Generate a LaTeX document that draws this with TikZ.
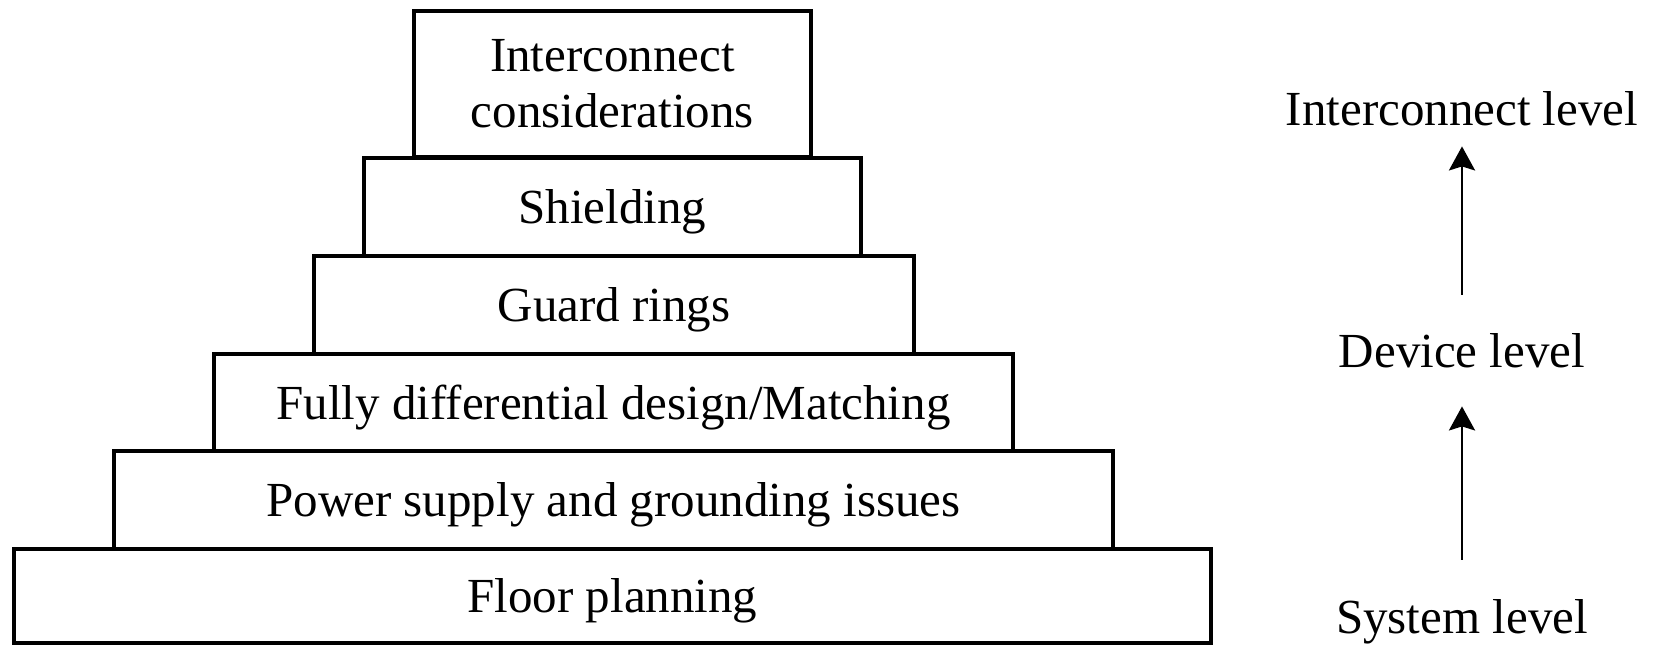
\documentclass[tikz,border=0pt]{standalone}
\usepackage{fontspec}
\setmainfont{Liberation Serif}
\usetikzlibrary{arrows.meta}
\begin{document}
\begin{tikzpicture}[x=0.5pt,y=-0.5pt,
  every node/.style={font=\fontsize{24.5}{28}\selectfont},
  tier/.style={draw, line width=1.8pt, rectangle, inner sep=0pt, align=center},
  one/.style={text height=16.5pt, text depth=0pt},
  lvl/.style={inner sep=0pt, anchor=base, text height=17pt, text depth=0pt},
  up/.style={-{Stealth[length=12pt,width=13pt,inset=2pt]}, line width=1.4pt}]
\useasboundingbox (0,0) rectangle (1656,647);
\node[tier, minimum width=198.5pt, minimum height=73pt] (top) at (612.5,84) {Interconnect\\considerations};
\node[tier, one, minimum width=248.5pt, minimum height=49pt] (shield) at (612.5,207) {Shielding};
\node[tier, one, minimum width=300pt, minimum height=49pt] (guard) at (614,305) {Guard rings};
\node[tier, one, minimum width=399.5pt, minimum height=48.5pt] (fully) at (613.5,402.5) {Fully differential design/Matching};
\node[tier, one, minimum width=499.5pt, minimum height=49pt] (power) at (613.5,500) {Power supply and grounding issues};
\node[tier, one, minimum width=598.5pt, minimum height=47pt] (floor) at (612.5,596) {Floor planning};
\node[lvl] (il) at (1462,126) {Interconnect level};
\node[lvl] (dl) at (1462,367) {Device level};
\node[lvl] (sl) at (1462,633) {System level};
\draw[up, shorten <=19pt, shorten >=10pt] (dl.north) -- (il.south);
\draw[up, shorten <=19.5pt, shorten >=19.5pt] (sl.north) -- (dl.south);
\end{tikzpicture}
\end{document}
